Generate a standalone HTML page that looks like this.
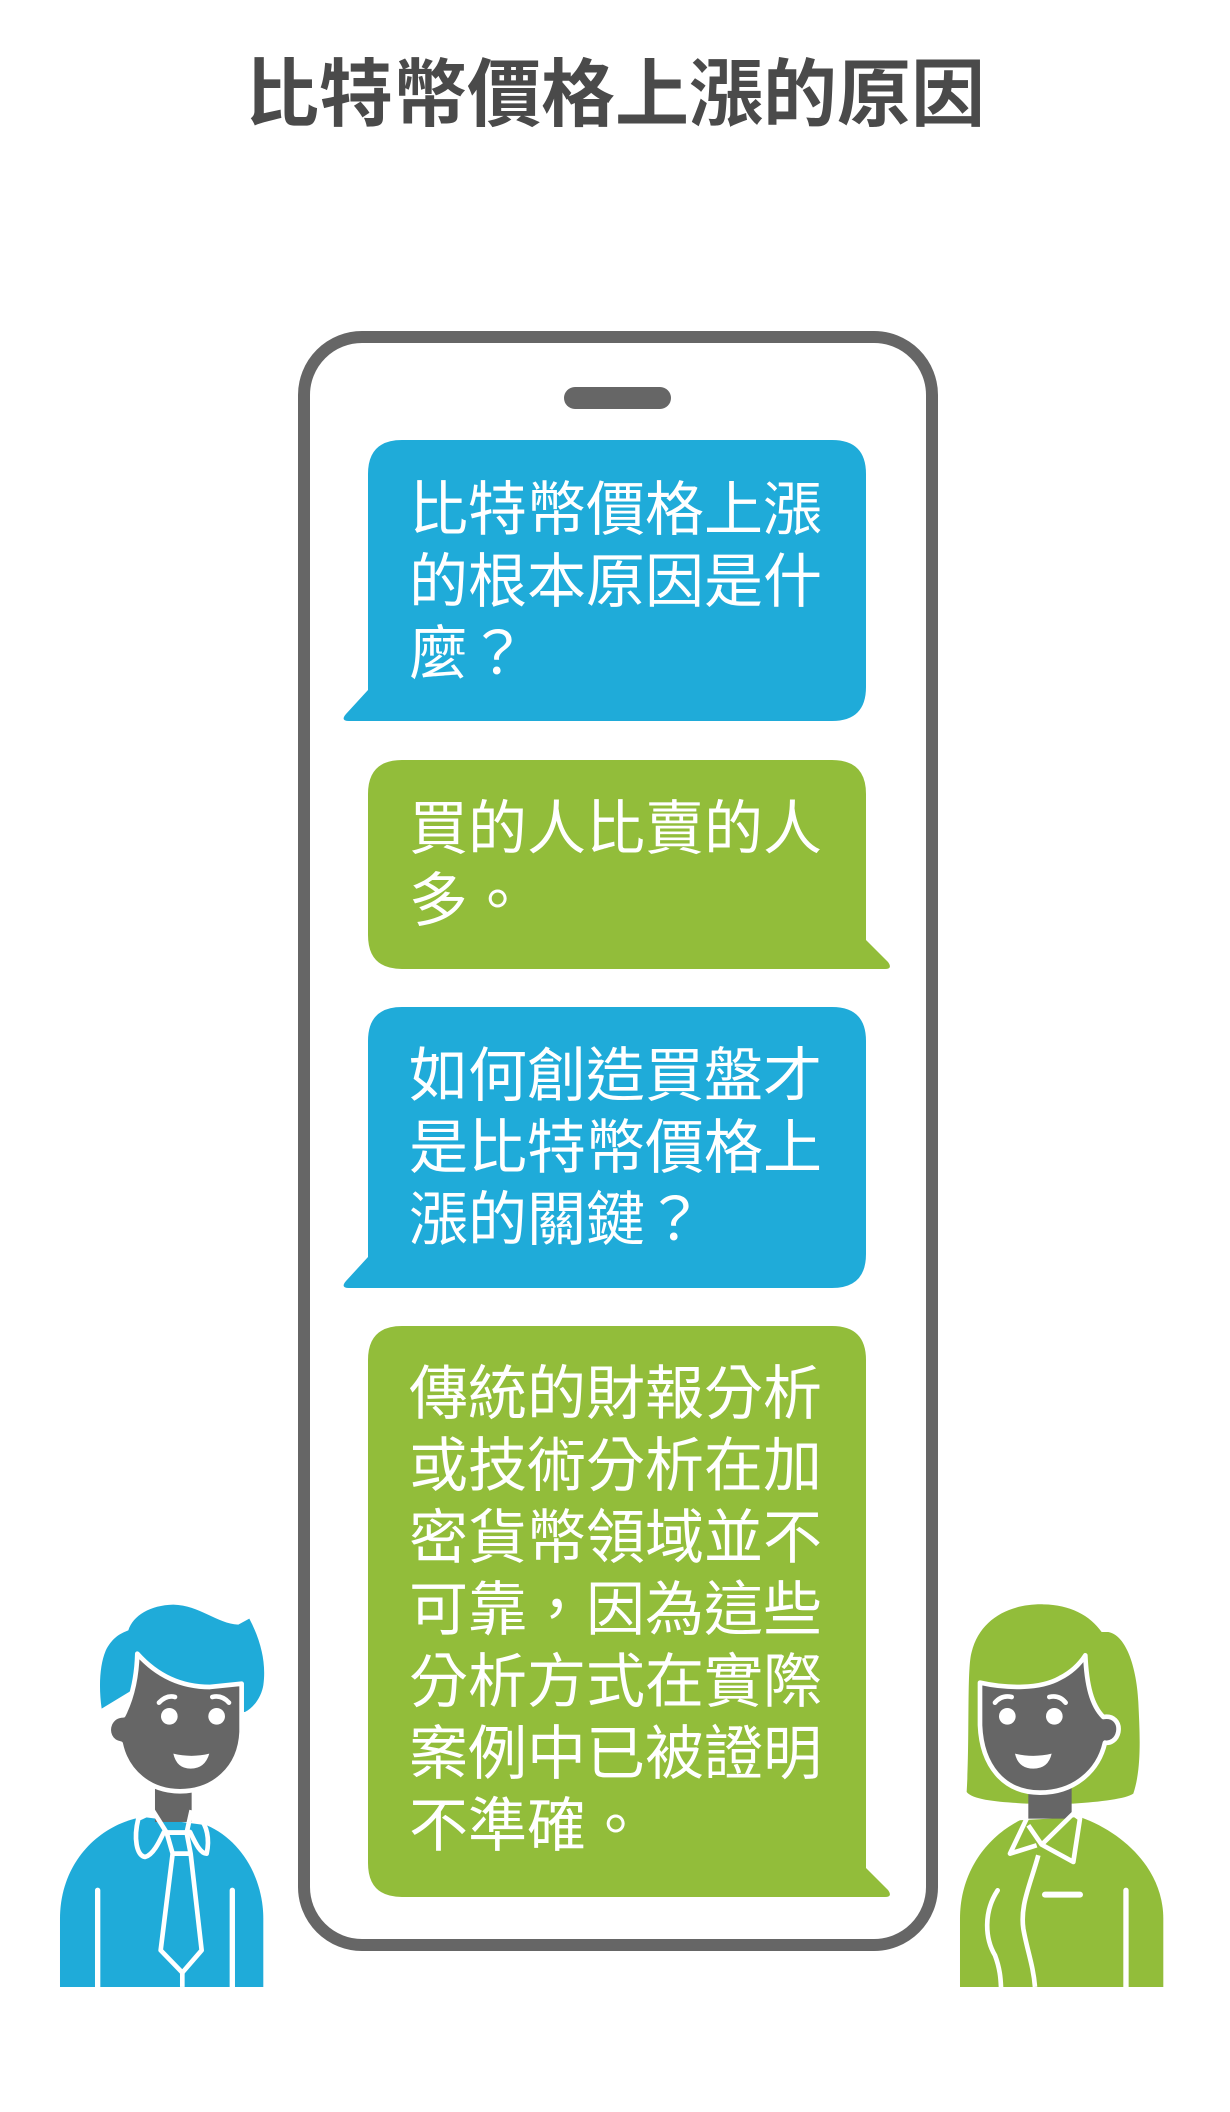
<!DOCTYPE html>
<html><head><meta charset="utf-8"><style>
html,body{margin:0;padding:0;background:#fff;}
body{width:1230px;height:2112px;position:relative;overflow:hidden;font-family:"Liberation Sans","Noto Sans CJK TC",sans-serif;}
svg{position:absolute;left:0;top:0;}
.t{position:absolute;left:409px;width:440px;color:#fff;font-size:59px;line-height:72px;font-family:"Liberation Sans","Noto Sans CJK TC",sans-serif;letter-spacing:0px;white-space:nowrap;}
.title{position:absolute;left:0;width:1230px;top:48px;text-align:center;font-size:74px;line-height:94px;font-weight:bold;color:#4a4a4a;font-family:"Liberation Sans","Noto Sans CJK TC",sans-serif;}
</style></head><body>
<svg width="1230" height="2112" viewBox="0 0 1230 2112">
<!-- phone -->
<rect x="304" y="337" width="628" height="1608" rx="58" fill="#fff" stroke="#666" stroke-width="12"/>
<rect x="564" y="387" width="107" height="22" rx="11" fill="#666"/>
<!-- B1 blue -->
<path d="M402 440 H832 Q866 440 866 474 V687 Q866 721 832 721 H349 Q340 721 346 714 L368 690 V474 Q368 440 402 440 Z" fill="#1fabd9"/>
<!-- B2 green -->
<path d="M402 760 H832 Q866 760 866 794 V940 L888 962 Q893 969 885 969 H402 Q368 969 368 935 V794 Q368 760 402 760 Z" fill="#92bd3a"/>
<!-- B3 blue -->
<path d="M402 1007 H832 Q866 1007 866 1041 V1254 Q866 1288 832 1288 H349 Q340 1288 346 1281 L368 1257 V1041 Q368 1007 402 1007 Z" fill="#1fabd9"/>
<!-- B4 green -->
<path d="M402 1326 H832 Q866 1326 866 1360 V1868 L888 1890 Q893 1897 885 1897 H402 Q368 1897 368 1863 V1360 Q368 1326 402 1326 Z" fill="#92bd3a"/>

<!-- man -->
<g transform="translate(0,1552) scale(0.3333)">
<path d="M180 1305 L180 1100 C180 930 300 815 430 795 L620 820 C725 865 790 980 790 1100 L790 1305 Z" fill="#1fabd9"/>
<rect x="465" y="700" width="110" height="110" fill="#666"/>
<path d="M305 470 C295 400 300 330 320 290 C340 255 360 245 385 235 C400 190 450 160 520 158 C600 160 650 215 715 218 L748 200 C780 260 800 330 790 400 C785 430 765 465 735 480 L700 480 L420 400 Z" fill="#1fabd9"/>
<path d="M412 305 C470 370 540 405 630 405 L725 395 L725 540 C720 650 640 718 540 718 C450 718 380 660 362 575 C330 570 320 540 330 515 C340 495 355 490 370 490 C395 440 410 380 412 305 Z" fill="#666" stroke="#fff" stroke-width="14" stroke-linejoin="round"/>
<circle cx="508" cy="493" r="25" fill="#fff"/><circle cx="650" cy="493" r="25" fill="#fff"/>
<path d="M477 452 Q500 428 525 435" stroke="#fff" stroke-width="14" fill="none" stroke-linecap="round"/>
<path d="M637 435 Q665 428 687 452" stroke="#fff" stroke-width="14" fill="none" stroke-linecap="round"/>
<path d="M520 605 Q575 618 628 605 Q615 650 572 650 Q530 650 520 605 Z" fill="#fff"/>
<path d="M458 780 L415 800 C400 860 410 910 435 915 C460 910 480 865 492 840 L500 842 L560 842 L570 840 C585 870 600 905 620 905 C630 860 620 820 600 800 L575 780" fill="none" stroke="#fff" stroke-width="14" stroke-linejoin="round"/>
<path d="M458 775 L500 842 M575 775 L560 842" stroke="#fff" stroke-width="14"/>
<path d="M500 842 L560 842 L572 905 L518 905 Z M518 905 L572 905 L605 1195 L547 1262 L482 1195 Z" fill="none" stroke="#fff" stroke-width="14" stroke-linejoin="round"/>
<path d="M547 1262 V1305" stroke="#fff" stroke-width="14"/>
<path d="M293 1015 V1305 M697 1015 V1305" stroke="#fff" stroke-width="16" stroke-linecap="round"/>
</g>

<!-- woman -->
<g transform="translate(900,1552) scale(0.3333)">
<path d="M180 1305 L180 1100 C180 960 260 855 360 805 L540 795 C680 845 790 960 790 1100 L790 1305 Z" fill="#92bd3a"/>
<path d="M200 720 C210 550 200 350 215 300 C240 200 330 155 430 157 C510 158 570 190 605 240 L625 240 C680 250 710 350 715 450 C720 550 725 650 700 725 C680 740 600 750 520 755 L380 755 C300 750 220 745 200 720 Z" fill="#92bd3a"/>
<rect x="385" y="700" width="130" height="100" fill="#666"/>
<path d="M240 392 C320 410 420 412 480 378 C515 360 540 335 556 310 C560 400 575 460 610 495 C640 490 660 510 655 540 C650 565 630 575 615 572 C595 660 520 722 420 722 C310 722 245 640 240 520 Z" fill="#666" stroke="#fff" stroke-width="14" stroke-linejoin="round"/>
<circle cx="322" cy="493" r="25" fill="#fff"/><circle cx="463" cy="493" r="25" fill="#fff"/>
<path d="M285 452 Q305 428 335 435" stroke="#fff" stroke-width="14" fill="none" stroke-linecap="round"/>
<path d="M448 435 Q478 428 497 452" stroke="#fff" stroke-width="14" fill="none" stroke-linecap="round"/>
<path d="M345 605 Q400 618 455 605 Q445 650 400 650 Q355 650 345 605 Z" fill="#fff"/>
<path d="M380 800 L330 905 L410 880 M385 820 L425 878 L520 930 L540 800 L520 785 L425 878" fill="none" stroke="#fff" stroke-width="14" stroke-linejoin="round"/>
<path d="M415 910 C390 1000 360 1060 370 1130 C380 1190 400 1240 405 1305" fill="none" stroke="#fff" stroke-width="14"/>
<path d="M293 1015 C250 1080 255 1160 285 1210 C300 1250 302 1280 303 1305" fill="none" stroke="#fff" stroke-width="14" stroke-linecap="round"/>
<path d="M435 1028 H540" stroke="#fff" stroke-width="18" stroke-linecap="round"/>
<path d="M678 1015 V1305" stroke="#fff" stroke-width="16" stroke-linecap="round"/>
</g>
</svg>

<div class="title">比特幣價格上漲的原因</div>
<div class="t" style="top:474px">比特幣價格上漲<br>的根本原因是什<br>麼？</div>
<div class="t" style="top:793px">買的人比賣的人<br>多。</div>
<div class="t" style="top:1040px">如何創造買盤才<br>是比特幣價格上<br>漲的關鍵？</div>
<div class="t" style="top:1358px">傳統的財報分析<br>或技術分析在加<br>密貨幣領域並不<br>可靠，因為這些<br>分析方式在實際<br>案例中已被證明<br>不準確。</div>
</body></html>
